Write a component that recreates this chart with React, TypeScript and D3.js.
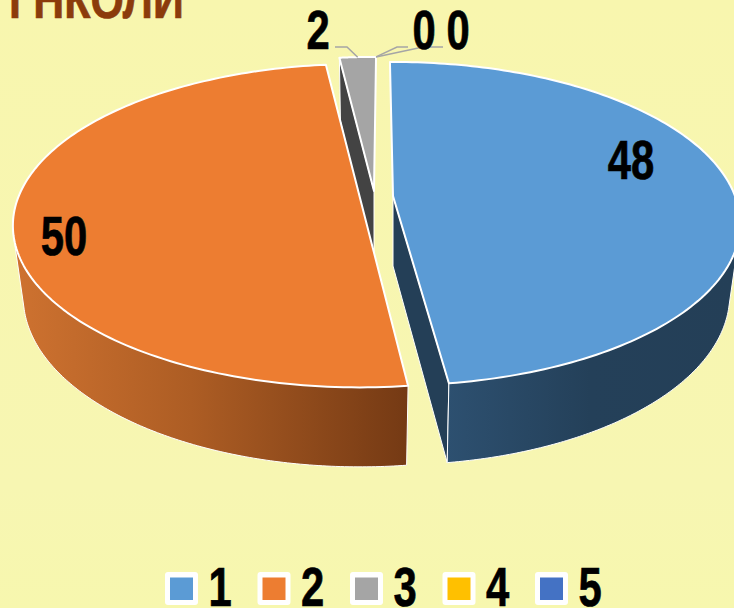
import React, { useMemo } from "react";
import * as d3 from "d3";

// ---- data ----
const categories = ["1", "2", "3", "4", "5"];
const values = [48, 50, 2, 0, 0];
const titleText = "ГНКОЛИ";

// ---- style ----
const topColors = ["#5B9BD5", "#ED7D31", "#A5A5A5", "#FFC000", "#4472C4"];
const cutColors = ["#243F57", "#7A3D15", "#434343", "#7F6000", "#223962"];
const FONT = "'Liberation Sans', Arial, sans-serif";
const NARROW = 0.76;

// ---- layout ----
const W = 734, H = 608;
const RX = 342, RY = 157, K = 0.171;
const DEPTH = 70, BOTTOM_X = 0.97, BOTTOM_Y = 1.05;
const centres = [
  { cx: 393, cy: 196, turn: -0.3 },
  { cx: 360, cy: 198, turn: 0.8 },
  { cx: 374, cy: 191, turn: 0.7 },
];
const START_DEG = -0.3;
const labelPos = [
  { x: 631, y: 179 },
  { x: 64, y: 255 },
  { x: 318, y: 49 },
  { x: 424, y: 49 },
  { x: 458, y: 49 },
];
const legendX = d3.scaleLinear().domain([0, 4]).range([165, 535]);

type Pt = [number, number];
type C = { cx: number; cy: number; turn: number };

const rad = (d: number) => (d * Math.PI) / 180;

function project(a: number, c: C, bottom = false): Pt {
  const u = Math.sin(a);
  const v = -Math.cos(a);
  const p = 1 / (1 - K * v);
  return [
    c.cx + RX * u * p * (bottom ? BOTTOM_X : 1),
    c.cy + (bottom ? DEPTH : 0) + RY * v * p * (bottom ? BOTTOM_Y : 1),
  ];
}

const sample = (a0: number, a1: number, n = 160) =>
  d3.range(n + 1).map((i) => a0 + ((a1 - a0) * i) / n);

const line = d3.line<Pt>().curve(d3.curveLinear);

function topPath(a0: number, a1: number, c: C) {
  const apex: Pt = [c.cx, c.cy];
  return line([apex, ...sample(a0, a1).map((a) => project(a, c)), apex]) + "Z";
}

function wallPath(a0: number, a1: number, c: C) {
  const pts = [
    ...sample(a0, a1).map((a) => project(a, c)),
    ...sample(a0, a1).map((a) => project(a, c, true)),
  ];
  const hull = d3.polygonHull(pts as [number, number][])!;
  return line(hull as Pt[]) + "Z";
}

function cutPath(a: number, c: C) {
  const pts: Pt[] = [
    [c.cx, c.cy],
    project(a, c),
    project(a, c, true),
    [c.cx, c.cy + DEPTH],
  ];
  return line(pts) + "Z";
}

function Narrow({ x, y, size, fill, children }: { x: number; y: number; size: number; fill: string; children: React.ReactNode }) {
  return (
    <text
      transform={`translate(${x},${y}) scale(${NARROW},1)`}
      textAnchor="middle"
      fontFamily={FONT}
      fontWeight={700}
      fontSize={size}
      fill={fill}
      stroke={fill}
      strokeWidth={0.7}
    >
      {children}
    </text>
  );
}

export default function App() {
  const arcs = useMemo(
    () =>
      d3
        .pie<number>()
        .sort(null)
        .startAngle(rad(START_DEG))
        .endAngle(rad(START_DEG + 360))(values),
    []
  );
  const turned = arcs.map((d, i) => {
    const c = centres[i] ?? centres[2];
    return {
      a0: d.startAngle + rad(c.turn),
      a1: d.endAngle + rad(c.turn),
      c,
    };
  });
  const [blue, orange, gray] = turned;
  const grayRimL = project(gray.a0, gray.c);
  const grayRimR = project(gray.a1, gray.c);
  const anchor2: Pt = [(grayRimL[0] + grayRimR[0]) / 2, (grayRimL[1] + grayRimR[1]) / 2];
  const leaders: Pt[][] = [
    [[335, 47], [347, 47], anchor2],
    [grayRimR, [397, 47], [408, 47]],
    [grayRimR, [423, 47], [443, 47]],
  ];

  return (
    <svg
      width={W}
      height={H}
      viewBox={`0 0 ${W} ${H}`}
      style={{ position: "absolute", left: 0, top: 0, display: "block" }}
    >
      <defs>
        <linearGradient id="bg" x1="0" y1="0" x2="0" y2="1">
          <stop offset="0" stopColor="#F8F6AE" />
          <stop offset="0.8" stopColor="#F7F6B2" />
          <stop offset="1" stopColor="#F7F7AE" />
        </linearGradient>
        <linearGradient id="wallOrange" gradientUnits="userSpaceOnUse" x1="15" y1="0" x2="406" y2="0">
          <stop offset="0" stopColor="#CE7230" />
          <stop offset="0.45" stopColor="#AD5D24" />
          <stop offset="1" stopColor="#753A14" />
        </linearGradient>
        <linearGradient id="wallBlue" gradientUnits="userSpaceOnUse" x1="447" y1="0" x2="734" y2="0">
          <stop offset="0" stopColor="#2D5070" />
          <stop offset="0.5" stopColor="#244059" />
          <stop offset="1" stopColor="#243F57" />
        </linearGradient>
      </defs>
      <rect width={W} height={H} fill="url(#bg)" />

      <text
        transform={`translate(9,18) scale(0.81,1)`}
        fontFamily={FONT}
        fontWeight={700}
        fontSize={53}
        fill="#8B3B0B"
        stroke="#8B3B0B"
        strokeWidth={0.7}
      >
        {titleText}
      </text>

      {/* slice 3 */}
      <path d={cutPath(gray.a0, gray.c)} fill={cutColors[2]} stroke="#fff" strokeWidth={1} strokeLinejoin="round" />
      <path d={topPath(gray.a0, gray.a1, gray.c)} fill={topColors[2]} stroke="#fff" strokeWidth={2} strokeLinejoin="round" />

      {/* slice 2 */}
      <path d={wallPath(orange.a0, rad(275), orange.c)} fill="url(#wallOrange)" stroke="#fff" strokeWidth={1} strokeLinejoin="round" />
      <path d={topPath(orange.a0, orange.a1, orange.c)} fill={topColors[1]} stroke="#fff" strokeWidth={2} strokeLinejoin="round" />

      {/* slice 1 */}
      <path d={cutPath(blue.a1, blue.c)} fill={cutColors[0]} stroke="#fff" strokeWidth={1} strokeLinejoin="round" />
      <path d={wallPath(rad(85), blue.a1, blue.c)} fill="url(#wallBlue)" stroke="#fff" strokeWidth={1} strokeLinejoin="round" />
      <path d={topPath(blue.a0, blue.a1, blue.c)} fill={topColors[0]} stroke="#fff" strokeWidth={2} strokeLinejoin="round" />

      {leaders.map((l, i) => (
        <path key={i} d={line(l) ?? ""} fill="none" stroke="#A5A5A5" strokeWidth={1.5} />
      ))}

      {values.map((v, i) => (
        <Narrow key={i} x={labelPos[i].x} y={labelPos[i].y} size={55} fill="#000">
          {v}
        </Narrow>
      ))}

      {categories.map((c, i) => (
        <g key={c} transform={`translate(${legendX(i)},572)`}>
          <rect width={33} height={33} rx={3} fill="#fff" />
          <rect x={5} y={5.5} width={23} height={22.5} fill={topColors[i]} />
          <Narrow x={55} y={33.5} size={55} fill="#000">
            {c}
          </Narrow>
        </g>
      ))}
    </svg>
  );
}
